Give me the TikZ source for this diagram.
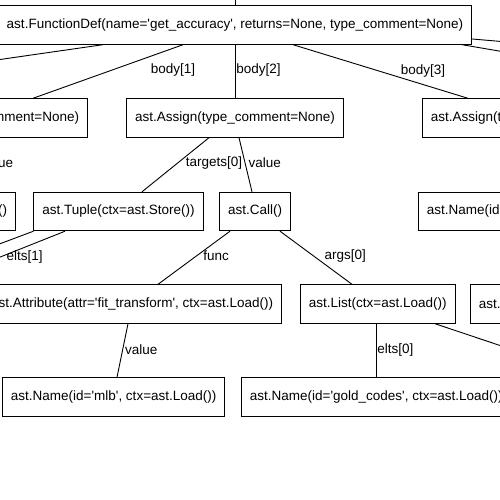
\documentclass[tikz,border=0pt]{standalone}
\usepackage{fontspec}
\setmainfont{Liberation Sans}
\newcommand{\sq}{\textquotesingle}
\tikzset{
  box/.style={draw, line width=0.9pt, rectangle, minimum height=38.5pt,
    inner xsep=8.5pt, inner ysep=0pt, font=\fontsize{13.5}{15}\selectfont},
  elabel/.style={inner sep=0pt, anchor=west, font=\fontsize{13.5}{15}\selectfont},
  edge/.style={draw, line width=0.9pt}
}
\begin{document}
\begin{tikzpicture}[x=1pt, y=-1pt]
  \useasboundingbox (0,0) rectangle (500,500);
  \clip (0,0) rectangle (500,500);

  \node[box] (fd) at (235,25) {ast.FunctionDef(name=\sq get\_accuracy\sq, returns=None, type\_comment=None)};

  \node[box, anchor=east] (la) at (88,118) {ast.Assign(type\_comment=None)};
  \node[box] (ma) at (235,118) {ast.Assign(type\_comment=None)};
  \node[box, anchor=west] (ra) at (422,118) {ast.Assign(type\_comment=None)};

  \node[box, anchor=east] (lc) at (16,211.5) {ast.Call()};
  \node[box] (tp) at (118.5,211.5) {ast.Tuple(ctx=ast.Store())};
  \node[box] (cl) at (255,211.5) {ast.Call()};
  \node[box, anchor=west, text width=150pt, align=left] (rn) at (418,211.5) {ast.Name(id=};

  \node[box, anchor=east] (at) at (282,304) {ast.Attribute(attr=\sq fit\_transform\sq, ctx=ast.Load())};
  \node[box, anchor=west] (ls) at (300,304) {ast.List(ctx=ast.Load())};
  \node[box, anchor=west, text width=100pt, align=left] (rx) at (470,304) {ast.};

  \node[box, anchor=west] (nm) at (2,397) {ast.Name(id=\sq mlb\sq, ctx=ast.Load())};
  \node[box, anchor=west] (ng) at (241,397) {ast.Name(id=\sq gold\_codes\sq, ctx=ast.Load())};

  \coordinate (up) at (235,-40);
  \coordinate (b0) at (-275,99);
  \coordinate (b4) at (780,99);
  \coordinate (b5) at (1170,99);
  \coordinate (te0) at (-110,285);
  \coordinate (te1) at (-70,285);
  \coordinate (le1) at (597,378);

  \draw[edge] (fd.north) -- (up);
  \draw[edge] ([xshift=-132pt]fd.south) -- (b0);
  \draw[edge] ([xshift=-52pt]fd.south) -- node[elabel, pos=.47, xshift=38pt] {body[1]} ([xshift=-55pt]la.north east);
  \draw[edge] (fd.south) -- node[elabel, pos=.47, xshift=1pt] {body[2]} (ma.north);
  \draw[edge] ([xshift=58pt]fd.south) -- node[elabel, pos=.5, xshift=20pt] {body[3]} ([xshift=46pt]ra.north west);
  \draw[edge] ([xshift=227pt]fd.south) -- (b4);
  \draw[edge] ([yshift=-14pt]fd.east) -- (b5);

  \draw[edge] (la.south) -- node[elabel, pos=.47, xshift=1pt] {value} (lc.north);
  \draw[edge] ([xshift=-26pt]ma.south) -- node[elabel, pos=.47, xshift=8pt] {targets[0]} ([xshift=23.5pt]tp.north);
  \draw[edge] ([xshift=4pt]ma.south) -- node[elabel, pos=.47, xshift=3pt] {value} ([xshift=-3pt]cl.north);

  \draw[edge] (tp.south west) -- (te0);
  \draw[edge] ([xshift=-53.5pt]tp.south) -- node[elabel, pos=.48, xshift=6pt] {elts[1]} (te1);
  \draw[edge] ([xshift=-25pt]cl.south) -- node[elabel, pos=.46, xshift=6pt] {func} ([xshift=-124pt]at.north east);
  \draw[edge] ([xshift=25pt]cl.south) -- node[elabel, pos=.46, xshift=11pt] {args[0]} ([xshift=52pt]ls.north west);

  \draw[edge] ([xshift=-154pt]at.south east) -- node[elabel, pos=.49, xshift=2pt] {value} ([xshift=115pt]nm.north west);
  \draw[edge] ([xshift=76pt]ls.south west) -- node[elabel, pos=.49, xshift=1pt] {elts[0]} ([xshift=135pt]ng.north west);
  \draw[edge] ([xshift=135pt]ls.south west) -- (le1);
\end{tikzpicture}
\end{document}
